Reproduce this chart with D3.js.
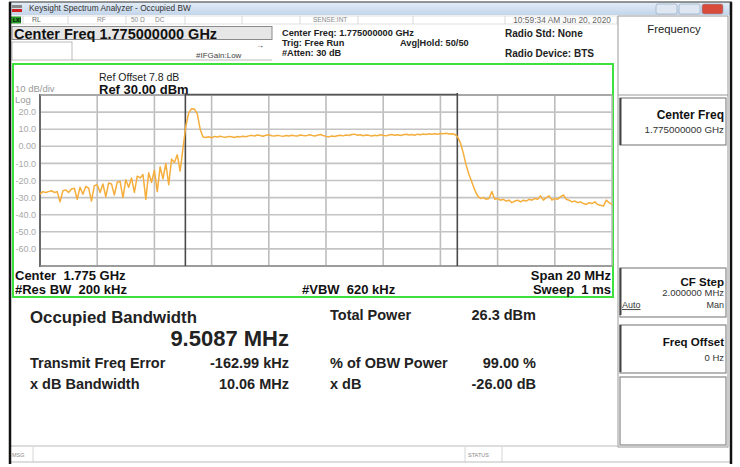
<!DOCTYPE html>
<html>
<head>
<meta charset="utf-8">
<script src="https://cdn.jsdelivr.net/npm/d3@7"></script>
<style>
  body { margin: 0; background: #fff; }
  text { font-family: "Liberation Sans", Arial, sans-serif; white-space: pre; }
</style>
</head>
<body>
<div id="chart"></div>
<script>
// instrument settings
const centerFreqGHz = 1.775;
const spanMHz = 20;
const refLevelDbm = 30;
const dbPerDiv = 10;
const numDivs = 10;

// trace amplitude (dBm), one value per sweep point, -10 MHz .. +10 MHz
const traceDbm = [
  -28, -26.5, -27, -26.5, -26, -27, -26.5, -32.5, -26, -25.5,
  -27, -25, -24.5, -31, -24, -28, -23.5, -24.5, -32, -23,
  -22.5, -27, -22, -29.5, -21.5, -22, -28.5, -21, -20.5, -30,
  -19.5, -24, -18.5, -27, -17.5, -18.5, -16.5, -31, -15.5, -21,
  -14, -26.5, -12, -19, -10, -22.5, -7.5, -9.5, -5, -14.5,
  -1, 12, 19.5, 22, 21.8, 19, 10, 5.5, 5.2, 5.6,
  5.0, 5.8, 5.4, 5.9, 5.5, 5.3, 5.8, 5.6, 5.2, 5.7,
  5.5, 5.9, 5.6, 6.1, 6.4, 6.0, 6.6, 6.3, 5.9, 6.5,
  6.8, 6.2, 6.0, 6.4, 6.1, 5.8, 6.3, 6.0, 6.5, 6.2,
  6.0, 6.6, 6.3, 6.1, 6.7, 6.4, 6.0, 6.5, 6.9, 6.3,
  5.8, 5.5, 6.0, 5.7, 6.2, 6.5, 6.1, 6.6, 6.3, 6.9,
  7.1, 6.5, 6.8, 6.2, 6.6, 6.4, 6.0, 6.5, 6.2, 6.7,
  6.4, 6.1, 6.6, 6.9, 6.5, 6.8, 6.3, 6.7, 7.0, 6.6,
  6.9, 6.5, 7.1, 6.8, 7.2, 6.9, 7.3, 7.0, 7.4, 7.1,
  7.5, 7.3, 7.6, 7.2, 7.4, 7.0, 5.5, 2, -4, -11,
  -16.5, -21, -25.5, -29, -30.5, -30, -31, -30.5, -26.5, -31,
  -30.5, -31.5, -31, -32, -31.5, -33, -32, -31.5, -32.5, -31.5,
  -32, -31, -31.5, -30.5, -31, -29, -31.5, -30, -29, -31.5,
  -30.5, -31, -29.5, -28.5, -31, -31.5, -32.5, -32, -33, -32.5,
  -33.5, -34, -33, -33.5, -32.5, -34, -34.5, -35, -31.5, -33,
  -34
];

const yTickValues = [20, 10, 0, -10, -20, -30, -40, -50, -60];
const yTickLabels = ["20.0", "10.0", "0.00", "-10.0", "-20.0", "-30.0", "-40.0", "-50.0", "-60.0"];

// measurement results
const obwMHz = 9.5087;
const freqErrorMHz = -0.16299;
const resultLabelsLeft = ["Transmit Freq Error", "x dB Bandwidth"];
const resultValuesLeft = ["-162.99 kHz", "10.06 MHz"];
const resultLabelsRight = ["Total Power", "% of OBW Power", "x dB"];
const resultValuesRight = ["26.3 dBm", "99.00 %", "-26.00 dB"];

const W = 740, H = 467;
const svg = d3.select("#chart").append("svg")
  .attr("width", W)
  .attr("height", H);

svg.append("rect").attr("width", W).attr("height", H).attr("fill", "#fff");

const defs = svg.append("defs");
const grad = defs.append("linearGradient").attr("id", "tb").attr("x1", 0).attr("y1", 0).attr("x2", 0).attr("y2", 1);
grad.append("stop").attr("offset", "0%").attr("stop-color", "#e4edf7");
grad.append("stop").attr("offset", "100%").attr("stop-color", "#c3d5ea");

function txt(x, y, s, opts = {}) {
  return svg.append("text")
    .attr("x", x).attr("y", y).attr("dy", "0.35em")
    .attr("text-anchor", opts.anchor || "start")
    .style("font-size", (opts.size || 10) + "px")
    .style("font-weight", opts.bold ? "bold" : "normal")
    .attr("fill", opts.color || "#111")
    .text(s);
}

// window title bar
svg.append("rect").attr("x", 9).attr("y", 2).attr("width", 722).attr("height", 13).attr("fill", "url(#tb)");
svg.append("rect").attr("x", 12).attr("y", 5).attr("width", 10).attr("height", 3).attr("fill", "#888");
svg.append("rect").attr("x", 12).attr("y", 9).attr("width", 10).attr("height", 3).attr("fill", "#d02020");
txt(29, 8.5, "Keysight Spectrum Analyzer - Occupied BW", { size: 8.3, color: "#333" });
[[656, "#dfe8f2"], [679, "#dfe8f2"], [702, "#d84a3a"]].forEach(([bx, c]) => {
  svg.append("rect").attr("x", bx).attr("y", 4).attr("width", 21).attr("height", 10).attr("rx", 2)
    .attr("fill", c).attr("stroke", "#8aa0b8").attr("stroke-width", 0.6);
});

// status row
svg.append("rect").attr("x", 11).attr("y", 16).attr("width", 606).attr("height", 8).attr("fill", "#fff")
  .attr("stroke", "#ccc").attr("stroke-width", 0.6);
[23, 68, 126, 185, 242, 300, 358, 413, 505].forEach(sx => {
  svg.append("line").attr("x1", sx).attr("x2", sx).attr("y1", 16).attr("y2", 24).attr("stroke", "#ccc").attr("stroke-width", 0.7);
});
svg.append("rect").attr("x", 11).attr("y", 16.5).attr("width", 10).attr("height", 7).attr("fill", "#2a9a2a");
txt(13, 20, "LXI", { size: 5, color: "#000", bold: true });
txt(32, 20, "RL", { size: 7, color: "#666" });
txt(97, 20, "RF", { size: 6.5, color: "#888" });
txt(131, 20, "50 \u03A9", { size: 6.5, color: "#888" });
txt(155, 20, "DC", { size: 6.5, color: "#888" });
txt(313, 20, "SENSE:INT", { size: 6.5, color: "#888" });
txt(611, 20, "10:59:34 AM Jun 20, 2020", { size: 8.4, color: "#666", anchor: "end" });

// center freq box
svg.append("rect").attr("x", 12).attr("y", 26.5).attr("width", 260).attr("height", 13)
  .attr("fill", "#e6e6e6").attr("stroke", "#8a8a8a").attr("stroke-width", 1);
txt(14, 33.5, "Center Freq 1.775000000 GHz", { size: 14.5, bold: true });
svg.append("rect").attr("x", 12).attr("y", 42).attr("width", 60).attr("height", 18)
  .attr("fill", "#fff").attr("stroke", "#aaa").attr("stroke-width", 0.8);
svg.append("line").attr("x1", 72).attr("x2", 272).attr("y1", 60).attr("y2", 60).attr("stroke", "#aaa").attr("stroke-width", 0.8);
txt(196, 55, "#IFGain:Low", { size: 8, color: "#444" });
txt(256, 45, "\u2192", { size: 8, color: "#333" });

txt(282, 32.5, "Center Freq: 1.775000000 GHz", { size: 9.2, bold: true, color: "#222" });
txt(282, 43, "Trig: Free Run", { size: 9.2, bold: true, color: "#222" });
txt(282, 53, "#Atten: 30 dB", { size: 9.2, bold: true, color: "#222" });
txt(400, 42.5, "Avg|Hold: 50/50", { size: 9.2, bold: true, color: "#222" });
txt(505, 33, "Radio Std: None", { size: 10, bold: true, color: "#222" });
txt(505, 53, "Radio Device: BTS", { size: 10, bold: true, color: "#222" });

// right softkey panel
svg.append("rect").attr("x", 618).attr("y", 16).attr("width", 110).attr("height", 431)
  .attr("fill", "#fff").attr("stroke", "#999").attr("stroke-width", 1);
svg.append("line").attr("x1", 618).attr("x2", 728).attr("y1", 95).attr("y2", 95).attr("stroke", "#999").attr("stroke-width", 1);
txt(674, 29, "Frequency", { size: 11.3, color: "#222", anchor: "middle" });
const keys = [
  { y0: 98, y1: 145 }, { y0: 268, y1: 317 },
  { y0: 325, y1: 373 }, { y0: 377, y1: 445 }
];
keys.forEach(k => {
  svg.append("rect").attr("x", 620).attr("y", k.y0).attr("width", 106).attr("height", k.y1 - k.y0)
    .attr("fill", "#fff").attr("stroke", "#888").attr("stroke-width", 1.2);
});
[98, 268, 325].forEach(ky => {
  svg.append("line").attr("x1", 620.5).attr("x2", 620.5).attr("y1", ky).attr("y2", ky + 47).attr("stroke", "#444").attr("stroke-width", 2);
});
txt(724, 115, "Center Freq", { size: 12, bold: true, anchor: "end" });
txt(724, 130, "1.775000000 GHz", { size: 9.8, anchor: "end", color: "#333" });
txt(724, 282, "CF Step", { size: 11.5, bold: true, anchor: "end" });
txt(724, 293, "2.000000 MHz", { size: 9.5, anchor: "end", color: "#333" });
txt(622, 305, "Auto", { size: 9, color: "#333" }).style("text-decoration", "underline");
txt(724, 305, "Man", { size: 9, anchor: "end", color: "#333" });
txt(724, 342, "Freq Offset", { size: 11.5, bold: true, anchor: "end" });
txt(724, 358, "0 Hz", { size: 9.5, anchor: "end", color: "#333" });

// plot frame (green)
svg.append("rect").attr("x", 13).attr("y", 64).attr("width", 600).attr("height", 233)
  .attr("fill", "none").attr("stroke", "#3ee03e").attr("stroke-width", 2);

const plotLeft = 40, plotRight = 612, plotTop = 95, plotBottom = 266;
const x = d3.scaleLinear().domain([-spanMHz / 2, spanMHz / 2]).range([plotLeft, plotRight]);
const y = d3.scaleLinear()
  .domain([refLevelDbm - dbPerDiv * numDivs, refLevelDbm])
  .range([plotBottom, plotTop]);

// grid
const grid = svg.append("g");
grid.selectAll("line.v").data(d3.range(-spanMHz / 2, spanMHz / 2 + 0.01, spanMHz / numDivs)).enter()
  .append("line")
  .attr("x1", d => x(d)).attr("x2", d => x(d))
  .attr("y1", plotTop).attr("y2", plotBottom)
  .attr("stroke", "#bdbdbd").attr("stroke-width", 1.6);
grid.selectAll("line.h").data(d3.range(refLevelDbm - dbPerDiv * numDivs, refLevelDbm + 0.01, dbPerDiv)).enter()
  .append("line")
  .attr("x1", plotLeft).attr("x2", plotRight)
  .attr("y1", d => y(d)).attr("y2", d => y(d))
  .attr("stroke", "#c4c4c4").attr("stroke-width", 1.6);
svg.append("line").attr("x1", plotLeft).attr("x2", plotLeft).attr("y1", plotTop - 1).attr("y2", plotBottom + 1)
  .attr("stroke", "#6a6a6a").attr("stroke-width", 2);
svg.append("line").attr("x1", plotLeft).attr("x2", plotRight).attr("y1", plotBottom).attr("y2", plotBottom)
  .attr("stroke", "#8a8a8a").attr("stroke-width", 1.6);
svg.append("line").attr("x1", plotLeft).attr("x2", plotRight).attr("y1", plotTop).attr("y2", plotTop)
  .attr("stroke", "#9a9a9a").attr("stroke-width", 1.4);

// y labels
svg.selectAll("text.ylab").data(yTickValues).enter().append("text")
  .attr("x", 36).attr("y", d => y(d)).attr("dy", "0.35em")
  .attr("text-anchor", "end")
  .style("font-size", "9px").attr("fill", "#a8a8a8")
  .text((d, i) => yTickLabels[i]);
txt(15, 100, "Log", { size: 9.5, color: "#9a9a9a" });
txt(15, 88.5, "10 dB/div", { size: 9.5, color: "#9a9a9a" });
txt(99, 77, "Ref Offset 7.8 dB", { size: 10.5, color: "#222" });
txt(99, 89, "Ref 30.00 dBm", { size: 13, bold: true, color: "#111" });

// OBW markers
const obwLeft = freqErrorMHz - obwMHz / 2;
const obwRight = freqErrorMHz + obwMHz / 2;
svg.append("line").attr("x1", x(obwLeft)).attr("x2", x(obwRight)).attr("y1", plotTop - 0.5).attr("y2", plotTop - 0.5)
  .attr("stroke", "#555").attr("stroke-width", 1.5);
[obwLeft, obwRight].forEach(f => {
  svg.append("line").attr("x1", x(f)).attr("x2", x(f)).attr("y1", plotTop - 2).attr("y2", plotBottom)
    .attr("stroke", "#4a4a4a").attr("stroke-width", 1.6);
});

// trace
const n = traceDbm.length;
const tracePts = traceDbm.map((v, i) => ({ f: -spanMHz / 2 + i * spanMHz / (n - 1), v }));
svg.append("path")
  .datum(tracePts)
  .attr("fill", "none")
  .attr("stroke", "#f5ae3c")
  .attr("stroke-width", 1.5)
  .attr("stroke-linejoin", "round")
  .attr("d", d3.line().x(d => x(d.f)).y(d => y(d.v)));

// bottom annotations
txt(15, 275, "Center  " + centerFreqGHz.toFixed(3) + " GHz", { size: 13, bold: true });
txt(15, 289, "#Res BW  200 kHz", { size: 13, bold: true });
txt(302, 289, "#VBW  620 kHz", { size: 13, bold: true });
txt(611, 275, "Span " + spanMHz + " MHz", { size: 13, bold: true, anchor: "end" });
txt(611, 289, "Sweep  1 ms", { size: 13, bold: true, anchor: "end" });

// results
txt(30, 317, "Occupied Bandwidth", { size: 16.8, bold: true, color: "#222" });
txt(289, 338, obwMHz.toFixed(4) + " MHz", { size: 22, bold: true, anchor: "end", color: "#222" });
resultLabelsLeft.forEach((s, i) => {
  txt(30, 363 + i * 20.5, s, { size: 14.5, bold: true, color: "#222" });
  txt(289, 363 + i * 20.5, resultValuesLeft[i], { size: 14.5, bold: true, anchor: "end", color: "#222" });
});
const rightRowsY = [315, 363, 383.5];
resultLabelsRight.forEach((s, i) => {
  txt(330, rightRowsY[i], s, { size: 14.5, bold: true, color: "#222" });
  txt(536, rightRowsY[i], resultValuesRight[i], { size: 14.5, bold: true, anchor: "end", color: "#222" });
});

// status bar
svg.append("line").attr("x1", 11).attr("x2", 618).attr("y1", 446).attr("y2", 446).attr("stroke", "#bbb").attr("stroke-width", 1.2);
svg.append("line").attr("x1", 11).attr("x2", 731).attr("y1", 462).attr("y2", 462).attr("stroke", "#bbb").attr("stroke-width", 1);
[33, 465, 502].forEach(sx => {
  svg.append("line").attr("x1", sx).attr("x2", sx).attr("y1", 447).attr("y2", 462).attr("stroke", "#ccc").attr("stroke-width", 0.8);
});
txt(12, 455, "MSG", { size: 5.5, color: "#888" });
txt(468, 455, "STATUS", { size: 5.5, color: "#888" });

// window border
svg.append("line").attr("x1", 10).attr("x2", 10).attr("y1", 2).attr("y2", 464).attr("stroke", "#111").attr("stroke-width", 2.5);
svg.append("line").attr("x1", 731).attr("x2", 731).attr("y1", 2).attr("y2", 464).attr("stroke", "#111").attr("stroke-width", 2.5);
svg.append("line").attr("x1", 9).attr("x2", 732).attr("y1", 2).attr("y2", 2).attr("stroke", "#333").attr("stroke-width", 1.2);
</script>
</body>
</html>
